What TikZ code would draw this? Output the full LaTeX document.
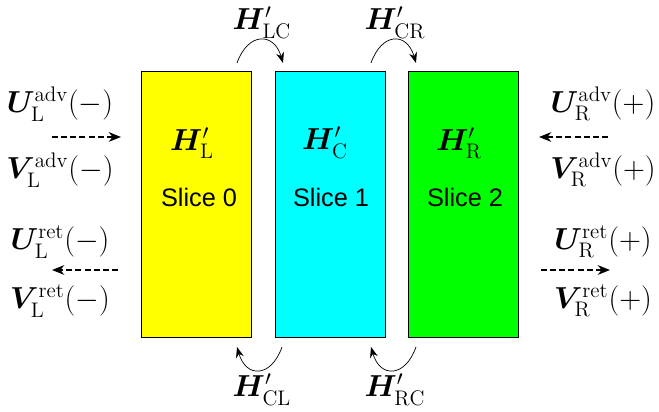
\documentclass[tikz,border=0pt]{standalone}
\usepackage{amsmath}
\usepackage{bm}
\usepackage{fontspec}
\newfontfamily\slicefont{Liberation Sans}
\usetikzlibrary{arrows.meta,positioning}
\definecolor{sliceyellow}{RGB}{255,255,0}
\definecolor{slicecyan}{RGB}{0,255,255}
\definecolor{slicegreen}{RGB}{0,255,0}

\begin{document}
\begin{tikzpicture}[x=0.02cm, y=0.02cm,
		slice/.style={draw, thin, minimum width=2.2cm, minimum height=5.32cm, inner sep=0pt},
		lbl/.style={font=\LARGE, inner sep=0pt},
		slicename/.style={font=\Large\slicefont, inner sep=0pt},
		flow/.style={thick, dash pattern=on 3.4pt off 1.8pt, -{Stealth[length=7pt, width=5.5pt]}},
		hop/.style={thin, -{Stealth[length=6pt, width=4.5pt]}}]
		\useasboundingbox (0,0) rectangle (659,412);
		
		% Slices
		\node[slice, fill=sliceyellow] (L) at (196,208) {};
		\node[slice, fill=slicecyan]   (C) at (330,208) {};
		\node[slice, fill=slicegreen]  (R) at (463,208) {};
		
		\node[lbl] (HL) at (192,269) {$\bm{H}'_{\mathrm{L}}$};
		\node[lbl] (HC) at (325,269) {$\bm{H}'_{\mathrm{C}}$};
		\node[lbl] (HR) at (459,269) {$\bm{H}'_{\mathrm{R}}$};
		\node[slicename] (sL) at (199,215) {Slice 0};
		\node[slicename] (sC) at (331,215) {Slice 1};
		\node[slicename] (sR) at (465,215) {Slice 2};
		
		% Couplings
		\coordinate (lc0) at (237,349); \coordinate (lc1) at (283,349);
		\coordinate (cr0) at (371,349); \coordinate (cr1) at (416,349);
		\coordinate (cl0) at (282,65);  \coordinate (cl1) at (237,65);
		\coordinate (rc0) at (416,65);  \coordinate (rc1) at (371,65);
		\draw[hop] (lc0) .. controls (248,380) and (274,380) .. (lc1);
		\draw[hop] (cr0) .. controls (382,380) and (407,380) .. (cr1);
		\draw[hop] (cl0) .. controls (271,34) and (246,34) .. (cl1);
		\draw[hop] (rc0) .. controls (405,34) and (380,34) .. (rc1);
		\node[lbl] (HLC) at (262,389) {$\bm{H}'_{\mathrm{LC}}$};
		\node[lbl] (HCR) at (395,389) {$\bm{H}'_{\mathrm{CR}}$};
		\node[lbl] (HCL) at (262,22)  {$\bm{H}'_{\mathrm{CL}}$};
		\node[lbl] (HRC) at (395,22)  {$\bm{H}'_{\mathrm{RC}}$};
		
		% Left lead
		\node[lbl] (ULa) at (60,308) {$\bm{U}^{\mathrm{adv}}_{\mathrm{L}}(-)$};
		\node[lbl] (VLa) at (60,242) {$\bm{V}^{\mathrm{adv}}_{\mathrm{L}}(-)$};
		\node[lbl] (ULr) at (60,170) {$\bm{U}^{\mathrm{ret}}_{\mathrm{L}}(-)$};
		\node[lbl] (VLr) at (60,111) {$\bm{V}^{\mathrm{ret}}_{\mathrm{L}}(-)$};
		\coordinate (la0) at (52,275);  \coordinate (la1) at (121,275);
		\coordinate (lr0) at (118,142); \coordinate (lr1) at (52,142);
		\draw[flow] (la0) -- (la1);
		\draw[flow] (lr0) -- (lr1);
		
		% Right lead
		\node[lbl] (URa) at (603,308) {$\bm{U}^{\mathrm{adv}}_{\mathrm{R}}(+)$};
		\node[lbl] (VRa) at (603,242) {$\bm{V}^{\mathrm{adv}}_{\mathrm{R}}(+)$};
		\node[lbl] (URr) at (603,170) {$\bm{U}^{\mathrm{ret}}_{\mathrm{R}}(+)$};
		\node[lbl] (VRr) at (603,111) {$\bm{V}^{\mathrm{ret}}_{\mathrm{R}}(+)$};
		\coordinate (ra0) at (608,275); \coordinate (ra1) at (539,275);
		\coordinate (rr0) at (541,142); \coordinate (rr1) at (610,142);
		\draw[flow] (ra0) -- (ra1);
		\draw[flow] (rr0) -- (rr1);
	\end{tikzpicture}
\end{document}
